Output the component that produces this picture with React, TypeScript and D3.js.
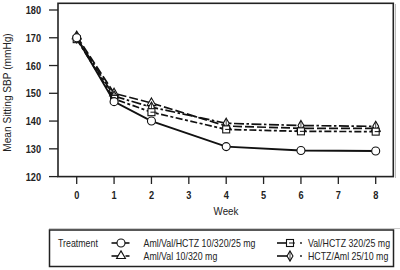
import React from "react";
import * as d3 from "d3";

const weeks = [0, 1, 2, 4, 6, 8];
const xTicks = [0, 1, 2, 3, 4, 5, 6, 7, 8];
const yTicks = [120, 130, 140, 150, 160, 170, 180];

const amlValHctz = [170, 147, 140, 130.8, 129.4, 129.2];
const valHctz = [169.5, 148, 143.2, 137, 136.3, 136.2];
const amlVal = [170.6, 150, 146.5, 138.2, 137.4, 137.4];
const hctzAml = [170, 149, 145, 139.2, 138.4, 138.1];

const seriesNames = [
  "Aml/Val/HCTZ 10/320/25  mg",
  "Val/HCTZ 320/25 mg",
  "Aml/Val 10/320 mg",
  "HCTZ/Aml 25/10 mg",
];

const FONT = "'Liberation Sans', Arial, sans-serif";

type Series = {
  name: string;
  values: number[];
  dash: string;
  width: number;
  marker: "circle" | "square" | "triangle" | "diamond";
};

const series: Series[] = [
  { name: seriesNames[2], values: amlVal, dash: "9,3", width: 1.7, marker: "triangle" },
  { name: seriesNames[3], values: hctzAml, dash: "10,2.5,2.5,2.5", width: 1.7, marker: "diamond" },
  { name: seriesNames[1], values: valHctz, dash: "7,2.5,3,2.5", width: 1.7, marker: "square" },
  { name: seriesNames[0], values: amlValHctz, dash: "", width: 1.9, marker: "circle" },
];

function T({
  x,
  y,
  sx = 0.82,
  anchor = "start",
  size = 10,
  weight = "normal",
  rotate = 0,
  children,
}: {
  x: number;
  y: number;
  sx?: number;
  anchor?: string;
  size?: number;
  weight?: string;
  rotate?: number;
  children: React.ReactNode;
}) {
  return (
    <text
      transform={`translate(${x},${y}) rotate(${rotate}) scale(${sx},1)`}
      textAnchor={anchor}
      fontSize={size}
      fontWeight={weight}
      fill="#222"
    >
      {children}
    </text>
  );
}

function Marker({ type, x, y }: { type: string; x: number; y: number }) {
  const common = { fill: "white", stroke: "#111", strokeWidth: 1.1 };
  if (type === "circle") return <circle cx={x} cy={y} r={4} {...common} />;
  if (type === "triangle")
    return <path d={d3.symbol(d3.symbolTriangle, 34)()!} transform={`translate(${x},${y})`} {...common} />;
  if (type === "square")
    return (
      <g transform={`translate(${x},${y})`}>
        <rect x={-3.5} y={-3.5} width={7} height={7} {...common} />
        <line x1={-1} x2={5} y1={0} y2={0} stroke="#111" strokeWidth={1} />
      </g>
    );
  return (
    <g transform={`translate(${x},${y})`}>
      <path d={d3.symbol(d3.symbolDiamond, 30)()!} {...common} />
      <line x1={0} x2={0} y1={-4} y2={4} stroke="#111" strokeWidth={0.8} />
    </g>
  );
}

export default function App() {
  const x = d3.scaleLinear().domain([0, 8]).range([76.7, 375.7]);
  const y = d3.scaleLinear().domain([120, 180]).range([176.6, 10]);
  const line = d3
    .line<number>()
    .x((_, i) => x(weeks[i]))
    .y((d) => y(d));

  const legendItems = [
    { s: series[3], lx: 111.5, ly: 243, tx: 143.5, kind: "solid" },
    { s: series[0], lx: 111.5, ly: 256, tx: 143.5, kind: "tri" },
    { s: series[2], lx: 277, ly: 243, tx: 308, kind: "dot" },
    { s: series[1], lx: 277, ly: 256, tx: 308, kind: "dot" },
  ];

  return (
    <svg
      width={400}
      height={270}
      style={{ position: "absolute", left: 0, top: 0, background: "white" }}
      fontFamily={FONT}
    >
      <rect x={0} y={0} width={400} height={270} fill="white" />
      {/* plot frame */}
      <rect x={58} y={3.3} width={335.3} height={173.3} fill="none" stroke="#222" strokeWidth={1.6} />
      <line x1={395.5} x2={395.5} y1={4} y2={178} stroke="#bbb" strokeWidth={1} />
      {/* y axis */}
      {yTicks.map((t) => (
        <g key={t}>
          <line x1={49} x2={58} y1={y(t)} y2={y(t)} stroke="#222" strokeWidth={1.3} />
          <T x={41} y={y(t) + 4} anchor="end" size={11.5} weight="bold" sx={0.8}>
            {t}
          </T>
        </g>
      ))}
      {/* x axis */}
      {xTicks.map((t) => (
        <g key={t}>
          <line x1={x(t)} x2={x(t)} y1={176.6} y2={184} stroke="#222" strokeWidth={1.3} />
          <T x={x(t)} y={198.5} anchor="middle" size={11.5} weight="bold" sx={0.8}>
            {t}
          </T>
        </g>
      ))}
      <T x={226} y={215} anchor="middle" size={11.5} sx={0.85}>
        Week
      </T>
      <T x={11} y={92.5} anchor="middle" size={11.5} sx={0.88} rotate={-90}>
        Mean Sitting SBP (mmHg)
      </T>
      {/* series */}
      {series.map((s) => (
        <g key={s.name}>
          <path
            d={line(s.values)!}
            fill="none"
            stroke="#111"
            strokeWidth={s.width}
            strokeDasharray={s.dash || undefined}
          />
          {s.values.map((v, i) => (
            <Marker key={i} type={s.marker} x={x(weeks[i])} y={y(v)} />
          ))}
        </g>
      ))}
      {/* legend */}
      <line x1={49} x2={400} y1={228.5} y2={228.5} stroke="#ccc" strokeWidth={1} />
      <rect x={49.5} y={230} width={344} height={36.5} fill="white" stroke="#222" strokeWidth={1.5} />
      <T x={58} y={246.5} size={10.5} sx={0.84}>
        Treatment
      </T>
      {legendItems.map(({ s, lx, ly, tx, kind }) => (
        <g key={s.name}>
          {kind === "solid" && (
            <line x1={lx} x2={lx + 18} y1={ly} y2={ly} stroke="#111" strokeWidth={1.6} />
          )}
          {kind === "tri" && (
            <g>
              <line x1={lx} x2={lx + 6.5} y1={ly} y2={ly} stroke="#111" strokeWidth={1.6} />
              <line x1={lx + 14} x2={lx + 18} y1={ly} y2={ly} stroke="#111" strokeWidth={1.6} />
            </g>
          )}
          {kind === "dot" && (
            <g>
              <line x1={lx} x2={lx + 12} y1={ly} y2={ly} stroke="#111" strokeWidth={1.6} />
              <circle cx={lx + 24} cy={ly} r={0.9} fill="#111" />
            </g>
          )}
          <Marker type={s.marker} x={kind === "dot" ? lx + 13 : lx + 9.5} y={ly} />
          <T x={tx} y={ly + 3.5} size={10.5} sx={0.84}>
            {s.name}
          </T>
        </g>
      ))}
    </svg>
  );
}
